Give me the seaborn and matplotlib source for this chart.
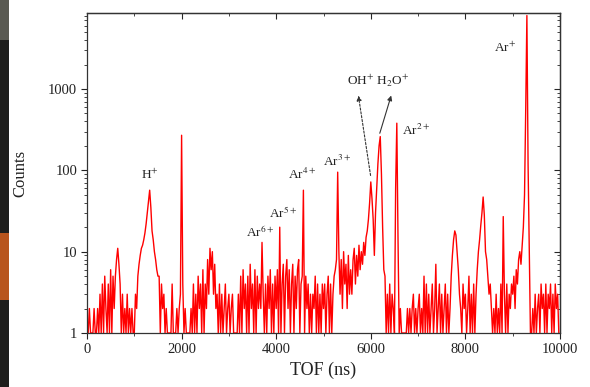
import numpy as np
import pandas as pd
import matplotlib
matplotlib.use("Agg")
import matplotlib.pyplot as plt
import matplotlib.ticker as mticker
from matplotlib.patches import Rectangle
import seaborn as sns

# ---- data (25 ns bins, counts) ----
bin_width_ns = 25
counts_0000 = [1,1,2,1,1,1,2,1,1,
               2,1,3,1,4,1,5,2,1,4,1,6,1,5,2,
               5,8,11,7,4,
               1,3,1,2,1,3,1,2,1,2,1]
counts_1000 = [1,3,2,5,7,9,11,
               12,14,17,22,30,40,57,
               35,18,14,10,8,6,5,
               5,1,4,2,3,1,2,1,
               1,1,1,4,1,1,
               1,2,1,2,3]
counts_2000 = [270,4,1,2,1,1,1,1,
               2,1,4,1,3,1,5,2,4,1,6,1,
               4,2,8,3,11,6,10,3,7,2,
               3,1,4,1,3,1,2,4,1,2]
counts_3000 = [3,1,2,3,
               1,1,1,1,
               3,1,5,1,6,2,4,1,5,1,7,2,4,1,6,1,5,2,4,
               2,13,3,
               1,4,1,5,2,6,1,4,1,5]
counts_4000 = [2,6,1,
               20,
               1,4,7,1,5,8,2,6,1,4,7,1,5,2,6,8,1,4,5,
               57,
               1,5,2,4,1,3,1,3,2,5,1,4,1,3,1,4]
counts_5000 = [2,4,1,3,5,1,4,1,3,5,6,
               8,95,10,
               3,8,2,10,4,7,2,9,3,6,3,8,11,4,9,5,12,6,10,7,13,9,15,18,25,40]
counts_6000 = [72,45,25,9,30,60,120,200,260,90,20,6,
               5,1,3,1,4,1,3,2,1,
               60,380,15,
               1,2,1,1,1,1,1,
               2,1,2,1,2,3,1,2,1]
counts_7000 = [2,3,1,2,1,
               5,1,4,1,
               3,1,2,4,1,2,
               7,1,
               2,4,1,3,1,2,4,1,3,1,2,
               5,9,14,18,16,10,6,3,
               2,1,4,2]
counts_8000 = [3,1,2,5,1,3,1,4,1,3,
               6,10,14,21,30,47,28,10,
               8,5,3,4,2,
               1,2,1,3,1,2,1,4,1,
               27,
               3,1,4,1,3,2,4]
counts_9000 = [3,5,2,6,4,8,10,7,
               12,20,50,
               550,8000,120,12,
               1,1,2,1,
               3,1,2,3,1,4,2,3,1,4,1,3,2,4,1,3,1,4,2,3,1]

counts = (counts_0000 + counts_1000 + counts_2000 + counts_3000 + counts_4000 +
          counts_5000 + counts_6000 + counts_7000 + counts_8000 + counts_9000)
tof = [i * bin_width_ns for i in range(len(counts))]
df = pd.DataFrame({"TOF": tof, "Counts": counts})

x_ticks = [0, 2000, 4000, 6000, 8000, 10000]
y_ticks = [1, 10, 100, 1000]
y_tick_labels = ["1", "10", "100", "1000"]

# ---- style ----
sns.set_style("ticks")
plt.rcParams["font.family"] = ["Liberation Serif", "DejaVu Serif"]
plt.rcParams["mathtext.fontset"] = "stix"

fig = plt.figure(figsize=(5.90, 3.87), dpi=100)
ax = fig.add_axes([87/590, 1 - 333/387, (560 - 87)/590, (333 - 13)/387])

sns.lineplot(data=df, x="TOF", y="Counts", ax=ax, color="#ff0000",
             linewidth=1.0, estimator=None, errorbar=None)

ax.set_yscale("log")
ax.set_xlim(0, 10000)
ax.set_ylim(1, 8600)

ax.xaxis.set_major_locator(mticker.FixedLocator(x_ticks))
ax.xaxis.set_minor_locator(mticker.MultipleLocator(1000))
ax.yaxis.set_major_locator(mticker.FixedLocator(y_ticks))
ax.yaxis.set_major_formatter(mticker.FixedFormatter(y_tick_labels))
ax.yaxis.set_minor_locator(mticker.LogLocator(base=10, subs=np.arange(2, 10)))
ax.yaxis.set_minor_formatter(mticker.NullFormatter())

ax.tick_params(which="major", direction="out", length=4, width=0.8,
               labelsize=10.5, colors="#222222", pad=3)
ax.tick_params(which="minor", direction="out", length=2, width=0.6)

for s in ax.spines.values():
    s.set_linewidth(0.9)
    s.set_color("#333333")
    s.set_visible(True)

# mirrored inward ticks on top and right
top = ax.secondary_xaxis("top")
top.xaxis.set_major_locator(mticker.FixedLocator(x_ticks))
top.xaxis.set_minor_locator(mticker.MultipleLocator(1000))
top.tick_params(which="major", direction="in", length=4, width=0.8, labeltop=False)
top.tick_params(which="minor", direction="in", length=2, width=0.6)
top.spines["top"].set_linewidth(0.9)

right = ax.secondary_yaxis("right")
right.yaxis.set_major_locator(mticker.FixedLocator(y_ticks))
right.yaxis.set_minor_locator(mticker.LogLocator(base=10, subs=np.arange(2, 10)))
right.yaxis.set_minor_formatter(mticker.NullFormatter())
right.tick_params(which="major", direction="in", length=4, width=0.8, labelright=False)
right.tick_params(which="minor", direction="in", length=2, width=0.6)
right.spines["right"].set_linewidth(0.9)

ax.set_xlabel("TOF (ns)", fontsize=13, color="#222222", labelpad=4)
ax.set_ylabel("Counts", fontsize=12, color="#222222", labelpad=14)

# ---- peak labels ----
lab_kw = dict(fontsize=9.5, color="#222222", ha="center", va="center")
ax.text(1332, 88, r"H$^{+}$", **lab_kw)
ax.text(3658, 17.5, r"Ar$^{6+}$", **lab_kw)
ax.text(4144, 30, r"Ar$^{5+}$", **lab_kw)
ax.text(4545, 88, r"Ar$^{4+}$", **lab_kw)
ax.text(5285, 130, r"Ar$^{3+}$", **lab_kw)
ax.text(6152, 1260, r"OH$^{+}$ H$_2$O$^{+}$", **lab_kw)
ax.text(6956, 305, r"Ar$^{2+}$", **lab_kw)
ax.text(8837, 3200, r"Ar$^{+}$", **lab_kw)

ax.annotate("", xy=(5729, 896), xytext=(6004, 80),
            arrowprops=dict(arrowstyle="-|>", linestyle=(0, (2, 1.5)),
                            color="#333333", lw=0.8, mutation_scale=7))
ax.annotate("", xy=(6448, 896), xytext=(6173, 265),
            arrowprops=dict(arrowstyle="-|>", color="#333333", lw=0.8,
                            mutation_scale=7))

# dark photo strip at the left edge of the picture
fig.patches.append(Rectangle((0, 0), 9/590, 1, transform=fig.transFigure,
                             facecolor="#1e1e1c", edgecolor="none", zorder=-1))
fig.patches.append(Rectangle((0, 1 - 300/387), 9/590, 67/387, transform=fig.transFigure,
                             facecolor="#b8541c", edgecolor="none", zorder=-1))
fig.patches.append(Rectangle((0, 1 - 40/387), 9/590, 40/387, transform=fig.transFigure,
                             facecolor="#5a5a52", edgecolor="none", zorder=-1))

fig.savefig("out.png", dpi=100)
